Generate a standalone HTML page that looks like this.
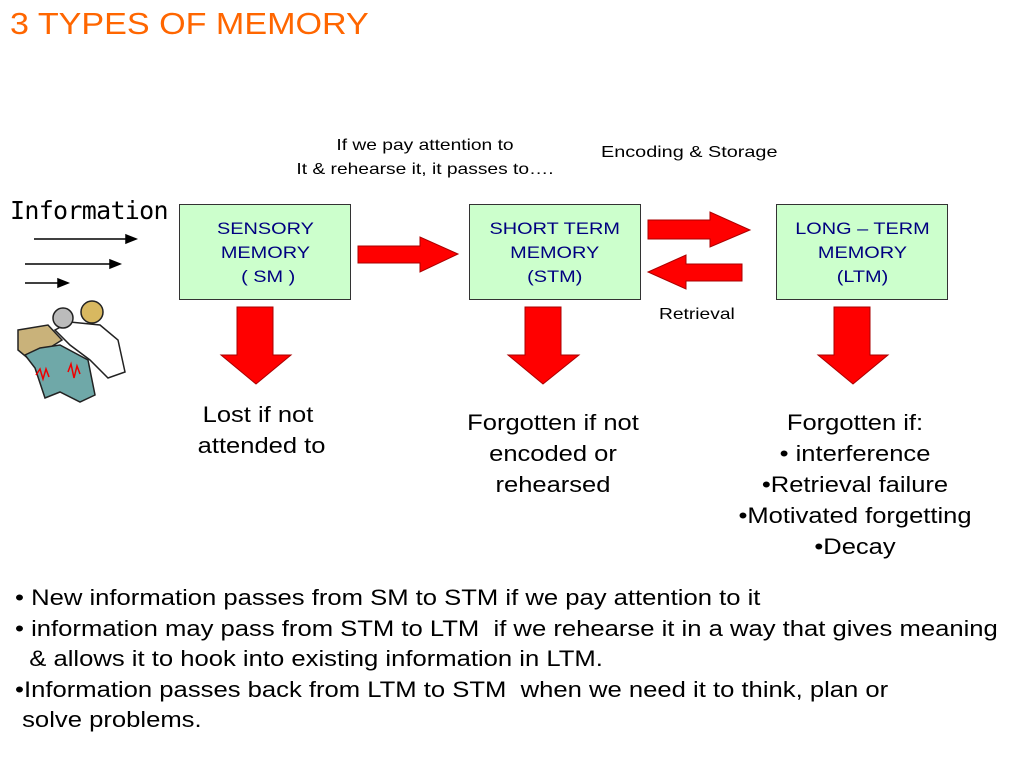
<!DOCTYPE html>
<html><head><style>
body{margin:0;width:1024px;height:768px;background:#fff;position:relative;overflow:hidden;font-family:"Liberation Sans",sans-serif}
.t{position:absolute;white-space:nowrap}
.box{position:absolute;background:#ccffcc;border:1px solid #333;box-sizing:border-box;color:#000080;font-size:17px;text-align:center;line-height:24px;padding-top:12px;width:172px;height:96px;top:204px}
.box span{display:inline-block;transform:scaleX(1.17)}
.c{text-align:center;transform:scaleX(1.16);transform-origin:center}
.l{transform:scaleX(1.165);transform-origin:left}
</style></head><body>
<div class="t" style="left:10px;top:6px;font-size:31px;color:#ff6600;transform:scaleX(1.1);transform-origin:left">3 TYPES OF MEMORY</div>
<div class="t c" style="left:280px;top:134px;font-size:16px;line-height:24px;width:290px;transform:scaleX(1.2)">If we pay attention to<br>It &amp; rehearse it, it passes to….</div>
<div class="t l" style="left:601px;top:144px;font-size:16px;transform:scaleX(1.24)">Encoding &amp; Storage</div>
<div class="t" style="left:10px;top:196px;font-size:25px;font-family:'DejaVu Sans Mono','Liberation Mono',monospace;letter-spacing:-0.7px">Information</div>
<div class="box" style="left:179px"><span>SENSORY<br>MEMORY<br>&nbsp;( SM )</span></div>
<div class="box" style="left:469px"><span>SHORT TERM<br>MEMORY<br>(STM)</span></div>
<div class="box" style="left:776px"><span>LONG – TERM<br>MEMORY<br>(LTM)</span></div>
<div class="t l" style="left:659px;top:306px;font-size:16px;transform:scaleX(1.2)">Retrieval</div>
<svg width="1024" height="768" style="position:absolute;left:0;top:0">
<g stroke="#000" stroke-width="1.5" fill="#000">
<line x1="34" y1="239" x2="128" y2="239"/><polygon points="136,239 126,235 126,243"/>
<line x1="25" y1="264" x2="112" y2="264"/><polygon points="120,264 110,260 110,268"/>
<line x1="25" y1="283" x2="60" y2="283"/><polygon points="68,283 58,279 58,287"/>
</g>
<g fill="#f00" stroke="#a00" stroke-width="1">
<polygon points="358,246 420,246 420,237 458,254 420,272 420,263 358,263"/>
<polygon points="648,220 710,220 710,212 750,230 710,247 710,239 648,239"/>
<polygon points="742,264 686,264 686,255 648,272 686,289 686,281 742,281"/>
<polygon points="237,307 273,307 273,355 291,355 256,384 221,355 237,355"/>
<polygon points="525,307 561,307 561,355 579,355 543,384 508,355 525,355"/>
<polygon points="834,307 870,307 870,355 888,355 853,384 818,355 834,355"/>
</g>
<g stroke="#222" stroke-width="1.5">
<path d="M18,330 L48,325 L62,340 L30,360 L18,350 Z" fill="#c9b27a"/>
<path d="M25,355 L35,368 L45,398 L60,392 L80,402 L95,395 L88,360 L60,345 L40,348 Z" fill="#6fa8a8"/>
<path d="M55,330 L70,322 L100,325 L118,340 L125,372 L108,378 L90,360 L70,345 Z" fill="#fff"/>
<circle cx="63" cy="318" r="10" fill="#bbb"/>
<circle cx="92" cy="312" r="11" fill="#d8b860"/>
<path d="M36,375 l4,-6 l3,10 l3,-10 l3,8" stroke="#e00" fill="none"/>
<path d="M68,372 l3,-8 l3,14 l3,-12 l3,8" stroke="#e00" fill="none"/>
</g>
</svg>
<div class="t c" style="left:178px;top:399px;font-size:22px;line-height:31px;width:160px">Lost if not<br>&nbsp;attended to</div>
<div class="t c" style="left:448px;top:407px;font-size:22px;line-height:31px;width:210px">Forgotten if not<br>encoded or<br>rehearsed</div>
<div class="t c" style="left:730px;top:407px;font-size:22px;line-height:31px;width:250px">Forgotten if:<br>• interference<br>•Retrieval failure<br>•Motivated forgetting<br>•Decay</div>
<div class="t l" style="left:15px;top:583px;font-size:22px;line-height:30.5px">• New information passes from SM to STM if we pay attention to it<br>• information may pass from STM to LTM&nbsp; if we rehearse it in a way that gives meaning<br>&nbsp;&nbsp;&amp; allows it to hook into existing information in LTM.<br>•Information passes back from LTM to STM&nbsp; when we need it to think, plan or<br>&nbsp;solve problems.</div>
</body></html>
